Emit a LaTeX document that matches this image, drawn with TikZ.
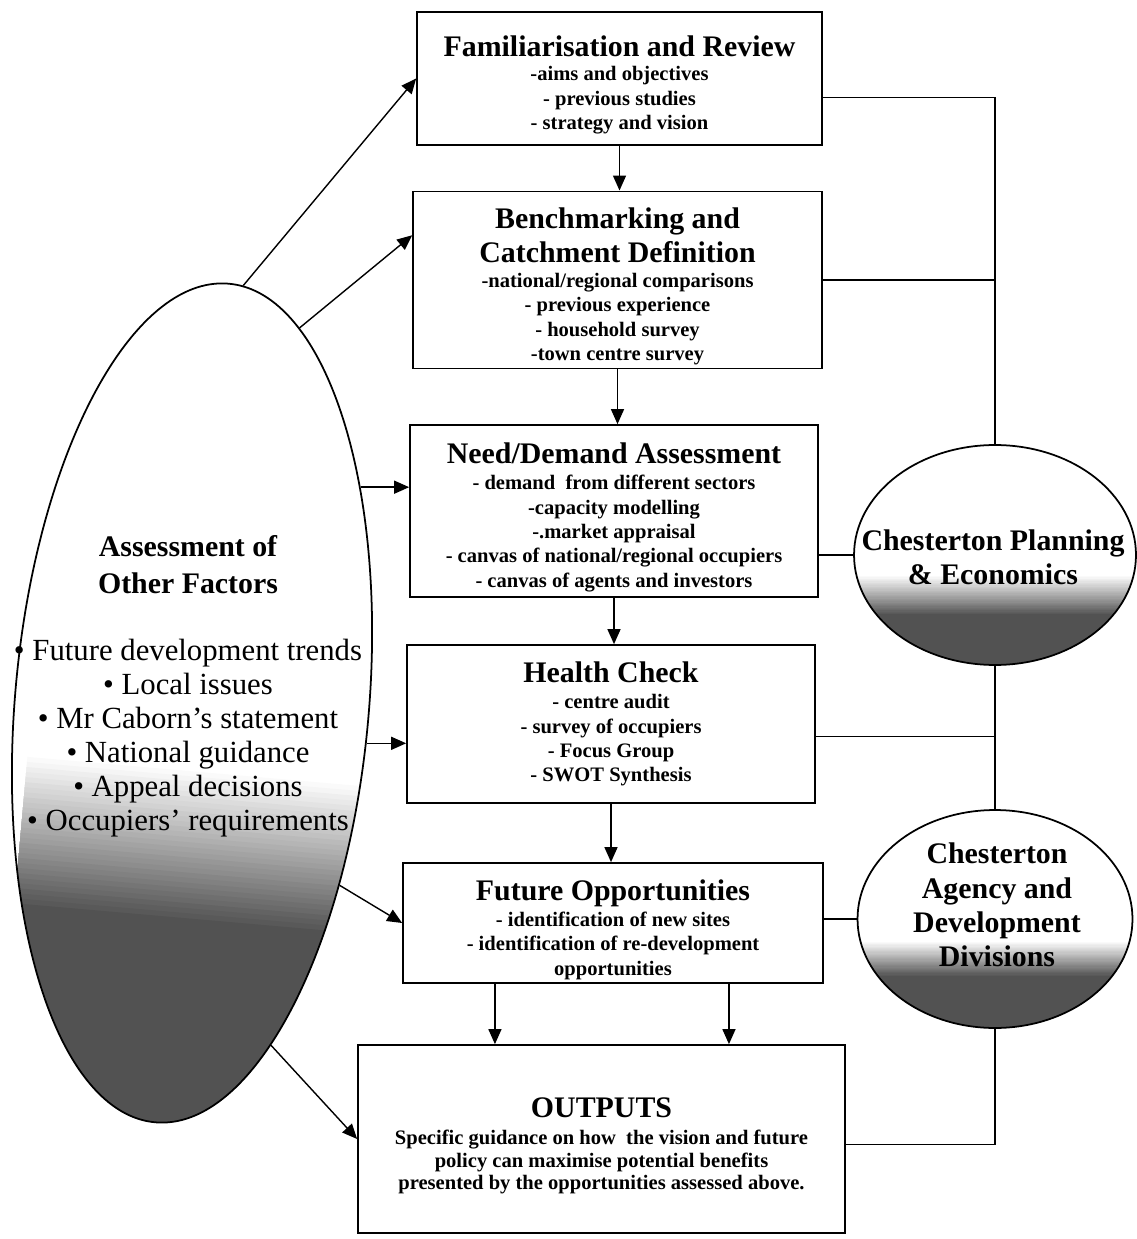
\documentclass[tikz,border=0pt]{standalone}
\usepackage{fontspec}
\setmainfont{Liberation Serif}
\usetikzlibrary{arrows.meta,shapes.geometric,calc}
\definecolor{speckle}{HTML}{525252}
\newcommand{\hd}{\fontsize{17}{19.5}\selectfont\bfseries}
\newcommand{\itm}{\fontsize{11.7}{13.9}\selectfont\bfseries}
\newcommand{\lst}{\fontsize{17.5}{19.3}\selectfont}
\newcommand{\lift}{\rule{0pt}{19pt}}

\begin{document}
\begin{tikzpicture}[x=0.02cm, y=-0.02cm,
    stage/.style={draw, line width=1pt, align=center, font=\itm, inner sep=2pt},
    blob/.style={draw, line width=1pt, ellipse, inner sep=0pt},
    stipple/.style 2 args={path picture={
      \foreach \k in {0,...,30}{
        \pgfmathsetmacro{\fk}{#2-\k*(#2-#1)/30}
        \pgfmathsetmacro{\pk}{int(100*\k/30)}
        \fill[speckle!\pk!white] (path picture bounding box.south west)
          rectangle ($(path picture bounding box.south east)!\fk!(path picture bounding box.north east)$);
      }}},
    arr/.style={line width=0.8pt, -{Triangle[length=0.3cm, width=0.26cm]}},
    link/.style={line width=0.8pt}]
  \useasboundingbox (0,0) rectangle (1136,1239);

  \node[stage, minimum width=8.1cm, minimum height=2.66cm] (fam) at (619.5,78.5)
    {\lift\hd Familiarisation and Review\\ -aims and objectives\\ - previous studies\\ - strategy and vision};
  \node[stage, minimum width=8.18cm, minimum height=3.4cm] (bench) at (617.5,280)
    {\lift\hd Benchmarking and\\[3pt] \hd Catchment Definition\\ -national/regional comparisons\\ - previous experience\\ - household survey\\ -town centre survey};
  \node[stage, minimum width=8.16cm, minimum height=3.44cm] (need) at (614,511)
    {\lift\hd Need/Demand Assessment\\[1pt] - demand\ \ from different sectors\\ -capacity modelling\\ -.market appraisal\\ - canvas of national/regional occupiers\\ - canvas of agents and investors};
  \node[stage, minimum width=8.16cm, minimum height=3.16cm] (health) at (611,724)
    {\hd Health Check\\[1pt] - centre audit\\ - survey of occupiers\\ - Focus Group\\ - SWOT Synthesis};
  \node[stage, minimum width=8.4cm, minimum height=2.4cm] (future) at (613,923)
    {\lift\hd Future Opportunities\\[1pt] - identification of new sites\\ - identification of re-development\\ opportunities};
  \node[stage, minimum width=9.74cm, minimum height=3.76cm, font=\fontsize{11.7}{13}\selectfont\bfseries] (outputs) at (601.5,1139)
    {\lift\hd OUTPUTS\\[2.5pt] Specific guidance on how\ \ the vision and future\\ policy can maximise potential benefits\\ presented by the opportunities assessed above.};

  \node[blob, rotate=-5, minimum width=7.08cm, minimum height=16.84cm, stipple={0.22}{0.40}] (factors) at (192,703) {};
  \node[align=center, font=\lst] (factxt) at (188,686)
    {\hd Assessment of\\[2pt] \hd Other Factors\\[19pt] • Future development trends\\ • Local issues\\ • Mr Caborn’s statement\\ • National guidance\\ • Appeal decisions\\ • Occupiers’ requirements};

  \node[blob, minimum width=5.64cm, minimum height=4.4cm, stipple={0.23}{0.41}] (planning) at (995,555) {};
  \node[align=center, font=\hd] (plantxt) at (993,557) {Chesterton Planning\\ \& Economics};
  \node[blob, minimum width=5.5cm, minimum height=4.36cm, stipple={0.24}{0.40}] (agency) at (995,919) {};
  \node[align=center, font=\hd] (agtxt) at (997,905) {Chesterton\\ Agency and\\ Development\\ Divisions};

  \coordinate (bt) at ($(bench.north west)!0.25!(bench.south west)$);
  \coordinate (ft) at ($(fam.north east)!0.64!(fam.south east)$);
  \coordinate (ht) at ($(health.north east)!0.58!(health.south east)$);
  \coordinate (ot) at ($(outputs.north east)!0.53!(outputs.south east)$);
  \coordinate (fl) at ($(future.south west)!0.22!(future.south east)$);
  \coordinate (fr) at ($(future.south west)!0.775!(future.south east)$);

  \draw[arr] (fam.south) -- (fam.south |- bench.north);
  \draw[arr] (bench.south) -- (bench.south |- need.north);
  \draw[arr] (need.south) -- (need.south |- health.north);
  \draw[arr] (health.south) -- (health.south |- future.north);
  \draw[arr] (fl) -- (fl |- outputs.north);
  \draw[arr] (fr) -- (fr |- outputs.north);

  \draw[arr] (factors.88) -- (fam.west);
  \draw[arr] (factors.79) -- (bt);
  \draw[arr] (factors.57) -- (factors.57 -| need.west);
  \draw[arr] (factors.-8) -- (factors.-8 -| health.west);
  \draw[arr] (factors.-46) -- (future.west);
  \draw[arr] (factors.-72) -- (outputs.west);

  \draw[link] (ft) -| (planning.north);
  \draw[link] (bench.east) -- (bench.east -| planning.north);
  \draw[link] (need.east |- planning.west) -- (planning.west);
  \draw[link] (planning.south) -- (planning.south |- agency.north);
  \draw[link] (ht) -- (ht -| planning.south);
  \draw[link] (future.east |- agency.west) -- (agency.west);
  \draw[link] (agency.south) |- (ot);
\end{tikzpicture}
\end{document}
